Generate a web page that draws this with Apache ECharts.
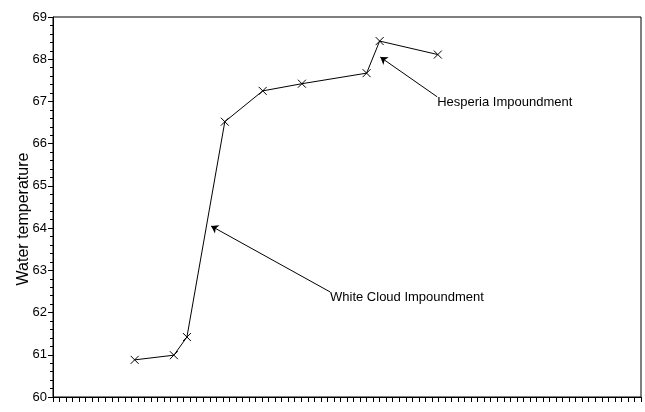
<!DOCTYPE html>
<html>
<head>
<meta charset="utf-8">
<script src="https://cdn.jsdelivr.net/npm/echarts@6/dist/echarts.min.js"></script>
<style>html,body{margin:0;padding:0;background:#fff;}#chart{width:645px;height:412px;}</style>
</head>
<body>
<div id="chart"></div>
<script>
// Data (x position along river, water temperature)
const xValues = [12.5, 18.5, 20.5, 26.3, 32.1, 38.1, 48.0, 50.0, 58.9];
const temperatures = [60.88, 60.99, 61.42, 66.52, 67.25, 67.42, 67.67, 68.43, 68.11];
const yTicks = [60, 61, 62, 63, 64, 65, 66, 67, 68, 69];
const annotationTexts = ['White Cloud Impoundment', 'Hesperia Impoundment'];
const annotationFrom = [[42.4, 62.49], [58.8, 67.11]];
const annotationTo = [[24.2, 64.05], [50.1, 68.05]];

const seriesData = xValues.map((x, i) => [x, temperatures[i]]);
const FONT = '"Liberation Sans", Arial, sans-serif';

const chart = echarts.init(document.getElementById('chart'));
const option = {
  animation: false,
  backgroundColor: '#fff',
  grid: { left: 53, right: 4, top: 17, bottom: 15, show: true, borderColor: '#000', borderWidth: 1 },
  xAxis: {
    type: 'value', min: 0, max: 90, interval: 1,
    axisLine: { lineStyle: { color: '#000', width: 1 } },
    axisTick: { show: true, length: 5, lineStyle: { color: '#000' } },
    axisLabel: { show: false },
    splitLine: { show: false }
  },
  yAxis: {
    type: 'value', min: yTicks[0], max: yTicks[yTicks.length - 1], interval: 1,
    name: 'Water temperature', nameLocation: 'middle', nameGap: 21, nameMoveOverlap: false,
    nameTextStyle: { color: '#000', fontSize: 16, fontFamily: FONT, padding: [0, 24, 0, 0] },
    axisLine: { show: true, lineStyle: { color: '#000', width: 1 } },
    axisTick: { show: true, length: 5, lineStyle: { color: '#000' } },
    minorTick: { show: true, splitNumber: 5, length: 3, lineStyle: { color: '#000' } },
    axisLabel: { color: '#000', fontSize: 13, fontFamily: FONT, margin: 6 },
    splitLine: { show: false }
  },
  series: [{
    type: 'line',
    data: seriesData,
    lineStyle: { color: '#000', width: 1 },
    symbol: 'path://M0,0L10,10M10,0L0,10',
    symbolSize: 8,
    itemStyle: { color: 'none', borderColor: '#000', borderWidth: 1 },
    markLine: {
      silent: true,
      symbol: ['none', 'arrow'],
      symbolSize: 7,
      lineStyle: { color: '#000', width: 1, type: 'solid' },
      itemStyle: { color: '#000' },
      label: { show: false },
      data: annotationFrom.map((f, i) => [{ coord: f }, { coord: annotationTo[i] }])
    }
  }]
};
chart.setOption(option);

const graphics = annotationTexts.map((t, i) => {
  const p = chart.convertToPixel({ gridIndex: 0 }, annotationFrom[i]);
  return {
    type: 'text', x: p[0], y: p[1] + 6,
    style: { text: t, fill: '#000', font: '13px ' + FONT, textAlign: 'left', textVerticalAlign: 'middle' }
  };
});
chart.setOption({ graphic: graphics });
</script>
</body>
</html>
